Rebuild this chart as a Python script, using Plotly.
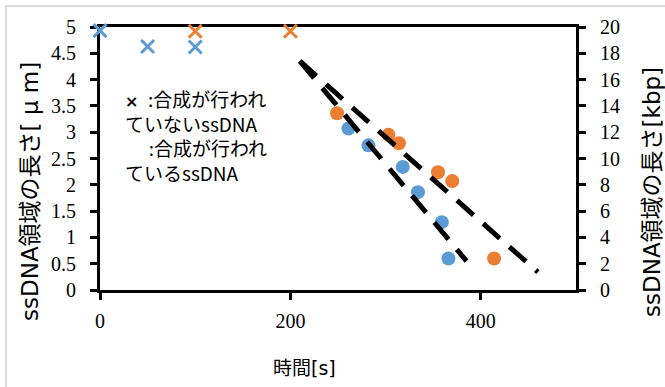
import plotly.graph_objects as go

# ---- data ----
blue_cross_x = [0, 50, 100]
blue_cross_y = [4.93, 4.63, 4.62]
orange_cross_x = [100, 200]
orange_cross_y = [4.92, 4.92]
blue_dot_x = [261, 282, 318, 334, 359, 366]
blue_dot_y = [3.07, 2.75, 2.34, 1.86, 1.29, 0.60]
orange_dot_x = [249, 303, 314, 355, 370, 414]
orange_dot_y = [3.36, 2.95, 2.79, 2.24, 2.07, 0.60]
trend1_x = [210, 385]
trend1_y = [4.35, 0.55]
trend2_x = [210, 460]
trend2_y = [4.35, 0.34]
x_ticks = [0, 200, 400]
y_ticks = [0, 0.5, 1, 1.5, 2, 2.5, 3, 3.5, 4, 4.5, 5]
y_tick_text = ["0", "0.5", "1", "1.5", "2", "2.5", "3", "3.5", "4", "4.5", "5"]
y2_ticks = [0, 2, 4, 6, 8, 10, 12, 14, 16, 18, 20]

BLUE = "#5B9BD5"
ORANGE = "#ED7D31"
TICKFONT = dict(family="Liberation Serif, serif", size=20, color="black")
TITLEFONT = "DejaVu Sans, Noto Sans CJK JP"
NOTEFONT = dict(family="Noto Sans CJK JP", size=19, color="black")

fig = go.Figure()
fig.add_trace(go.Scatter(x=blue_dot_x, y=blue_dot_y, mode="markers",
                         marker=dict(color=BLUE, size=14), cliponaxis=False, showlegend=False))
fig.add_trace(go.Scatter(x=orange_dot_x, y=orange_dot_y, mode="markers",
                         marker=dict(color=ORANGE, size=14), cliponaxis=False, showlegend=False))
fig.add_trace(go.Scatter(x=blue_cross_x, y=blue_cross_y, mode="markers",
                         marker=dict(symbol="x-thin", size=13, line=dict(width=3, color=BLUE)),
                         cliponaxis=False, showlegend=False))
fig.add_trace(go.Scatter(x=orange_cross_x, y=orange_cross_y, mode="markers",
                         marker=dict(symbol="x-thin", size=13, line=dict(width=3, color=ORANGE)),
                         cliponaxis=False, showlegend=False))
for tx, ty in [(trend1_x, trend1_y), (trend2_x, trend2_y)]:
    fig.add_trace(go.Scatter(x=tx, y=ty, mode="lines",
                             line=dict(color="black", width=5, dash="22px,13px"),
                             showlegend=False))
# invisible trace for the secondary axis
fig.add_trace(go.Scatter(x=[None], y=[None], yaxis="y2", showlegend=False))

axis_common = dict(showline=True, linecolor="black", linewidth=3, ticks="outside",
                   tickwidth=3, tickcolor="black", ticklen=7, showgrid=False,
                   zeroline=False, tickfont=TICKFONT, layer="below traces")

fig.update_layout(
    width=665, height=387,
    margin=dict(l=100, r=89, t=27, b=97),
    plot_bgcolor="white", paper_bgcolor="white",
    hovermode=False,
    xaxis=dict(range=[0, 500], tickvals=x_ticks, mirror=True, ticklabelstandoff=4, **axis_common),
    yaxis=dict(range=[0, 5], tickvals=y_ticks, ticktext=y_tick_text, ticklabelstandoff=10, **axis_common),
    yaxis2=dict(range=[0, 20], tickvals=y2_ticks, overlaying="y", side="right",
                ticklabelstandoff=10, **axis_common),
)

def px_x(p):
    return (p - 100) / 476.0

def px_y(p):
    return (290 - p) / 263.0

note_text = ("<span style='font-family:DejaVu Sans;font-size:16px'><b>×</b></span>"
             "\u2002:合成が行われ<br>ていないssDNA<br>"
             "\u3000\u2005:合成が行われ<br>ているssDNA")

ann = [
    dict(text="ssDNA領域の長さ[ μ m]", x=px_x(30), y=px_y(192), textangle=-90,
         font=dict(family=TITLEFONT, size=23, color="black")),
    dict(text="ssDNA領域の長さ[kbp]", x=px_x(652), y=px_y(192), textangle=-90,
         font=dict(family=TITLEFONT, size=23, color="black")),
    dict(text="時間[s]", x=px_x(304), y=px_y(368),
         font=dict(family=TITLEFONT, size=19, color="black")),
    dict(text=note_text, x=px_x(123), y=px_y(135.5),
         xanchor="left", align="left", font=NOTEFONT),
]
for a in ann:
    a.setdefault("xanchor", "center")
    a.setdefault("yanchor", "middle")
    fig.add_annotation(xref="paper", yref="paper", showarrow=False, **a)

fig.add_shape(type="rect", xref="paper", yref="paper",
              x0=px_x(6), x1=px_x(720), y0=px_y(440), y1=px_y(6),
              line=dict(color="#d9d9d9", width=2), layer="below")

fig.write_html("out.html", config={"displayModeBar": False},
               post_script="document.body.style.margin='0px';")
